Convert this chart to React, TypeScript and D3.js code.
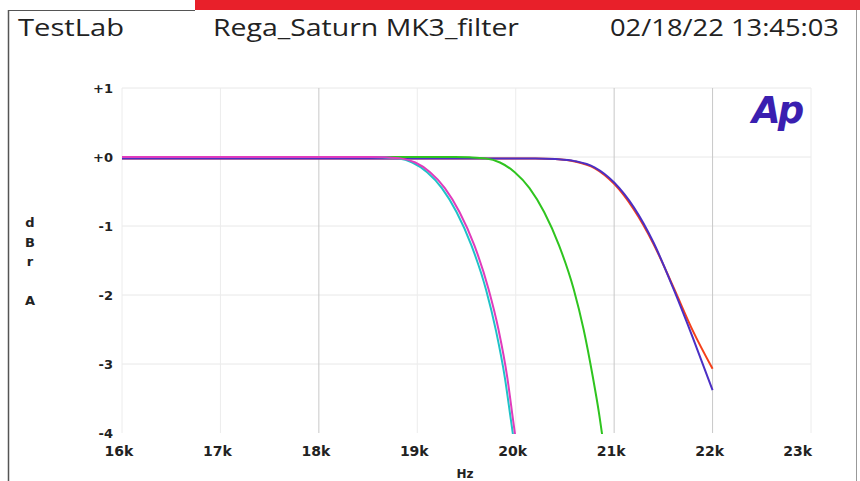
import React from "react";
import * as d3 from "d3";

const W = 860;
const H = 481;

const xTicks = [16000, 17000, 18000, 19000, 20000, 21000, 22000, 23000];
const xTickLabels = ["16k", "17k", "18k", "19k", "20k", "21k", "22k", "23k"];
const yTicks = [1, 0, -1, -2, -3, -4];
const yTickLabels = ["+1", "+0", "-1", "-2", "-3", "-4"];
const strongGridX = [18000, 21000, 22000];

const cyanF = [16000, 18500, 18650, 18800, 18950, 19100, 19250, 19400, 19550, 19700, 19800, 19890, 19950, 20000];
const cyanDb = [0, 0, -0.005, -0.02, -0.08, -0.22, -0.45, -0.8, -1.28, -1.93, -2.52, -3.2, -3.8, -4.3];

const magentaF = [16000, 18530, 18680, 18830, 18980, 19130, 19280, 19430, 19580, 19725, 19825, 19915, 19972, 20020];
const magentaDb = [0, 0, -0.005, -0.02, -0.08, -0.22, -0.45, -0.8, -1.28, -1.92, -2.5, -3.2, -3.8, -4.3];

const greenF = [16000, 19380, 19530, 19690, 19840, 19990, 20140, 20290, 20440, 20590, 20690, 20785, 20845, 20895];
const greenDb = [0, 0, -0.005, -0.02, -0.08, -0.22, -0.45, -0.8, -1.28, -1.92, -2.5, -3.2, -3.7, -4.2];

const blueF = [16000, 20200, 20400, 20600, 20800, 21000, 21200, 21400, 21600, 21800, 22000];
const blueDb = [-0.02, -0.02, -0.03, -0.06, -0.15, -0.37, -0.73, -1.24, -1.9, -2.62, -3.38];

const redF = [16000, 20200, 20400, 20600, 20800, 21000, 21200, 21400, 21600, 21800, 22000];
const redDb = [-0.02, -0.02, -0.03, -0.065, -0.16, -0.39, -0.76, -1.26, -1.88, -2.52, -3.07];

const seriesList = [
  { name: "red", f: redF, db: redDb, color: "#f5401a" },
  { name: "blue", f: blueF, db: blueDb, color: "#4b2fc4" },
  { name: "green", f: greenF, db: greenDb, color: "#2fc41f" },
  { name: "cyan", f: cyanF, db: cyanDb, color: "#20c2c8" },
  { name: "magenta", f: magentaF, db: magentaDb, color: "#e03cbc" },
];

const headerLeft = "TestLab";
const headerMid = "Rega_Saturn MK3_filter";
const headerRight = "02/18/22 13:45:03";
const yTitle = ["d", "B", "r", "", "A"];
const xTitle = "Hz";

export default function App() {
  const x = d3.scaleLinear().domain([16000, 23000]).range([122, 811]);
  const y = d3.scaleLinear().domain([-4, 1]).range([433, 88]);
  const line = d3
    .line<[number, number]>()
    .x((d) => x(d[0]))
    .y((d) => y(d[1]))
    .curve(d3.curveMonotoneX);

  const tickFont = "'DejaVu Sans', sans-serif";
  const headFont = "'Open Sans', 'Noto Sans', sans-serif";

  return (
    <svg
      width={W}
      height={H}
      viewBox={`0 0 ${W} ${H}`}
      style={{ position: "absolute", left: 0, top: 0, background: "#fff" }}
    >
      <rect x={0} y={0} width={W} height={H} fill="#fff" />
      {/* frame */}
      <rect x={195} y={0} width={W - 195} height={10} fill="#e8202a" />
      <line x1={8.5} y1={10} x2={8.5} y2={H} stroke="#555" strokeWidth={1.5} />
      <line x1={8} y1={10.5} x2={195} y2={10.5} stroke="#555" strokeWidth={1} />
      <line x1={856.5} y1={10} x2={856.5} y2={H} stroke="#999" strokeWidth={1} />

      {/* header */}
      <text x={18} y={36} fontFamily={headFont} fontSize={23} fill="#222" textLength={106} lengthAdjust="spacingAndGlyphs">
        {headerLeft}
      </text>
      <text x={213} y={36} fontFamily={headFont} fontSize={23} fill="#222" textLength={306} lengthAdjust="spacingAndGlyphs">
        {headerMid}
      </text>
      <text x={610} y={36} fontFamily={headFont} fontSize={23} fill="#222" textLength={229} lengthAdjust="spacingAndGlyphs">
        {headerRight}
      </text>

      {/* grid */}
      {yTicks.map((t) =>
        t === -4 ? null : (
          <line key={"gy" + t} x1={x(16000)} x2={x(23000)} y1={y(t)} y2={y(t)} stroke="#e8e8e8" strokeWidth={1} />
        )
      )}
      {xTicks.map((t) => (
        <line
          key={"gx" + t}
          x1={x(t)}
          x2={x(t)}
          y1={y(1)}
          y2={y(-4)}
          stroke={strongGridX.includes(t) ? "#c8c8c8" : "#ececec"}
          strokeWidth={1}
        />
      ))}

      {/* y tick labels */}
      {yTicks.map((t, i) => (
        <text
          key={"yl" + t}
          x={113}
          y={y(t) + 4.5}
          textAnchor="end"
          fontFamily={tickFont}
          fontWeight="bold"
          fontSize={13}
          fill="#222"
        >
          {yTickLabels[i]}
        </text>
      ))}
      {/* x tick labels */}
      {xTicks.map((t, i) => (
        <text
          key={"xl" + t}
          x={i === xTicks.length - 1 ? x(t) + 1 : x(t) - 3}
          y={456}
          textAnchor={i === xTicks.length - 1 ? "end" : "middle"}
          fontFamily={tickFont}
          fontWeight="bold"
          fontSize={14}
          fill="#222"
        >
          {xTickLabels[i]}
        </text>
      ))}
      {/* axis titles */}
      {yTitle.map((c, i) => (
        <text
          key={"yt" + i}
          x={30}
          y={227 + i * 19.5}
          textAnchor="middle"
          fontFamily={tickFont}
          fontWeight="bold"
          fontSize={13}
          fill="#222"
        >
          {c}
        </text>
      ))}
      <text x={465} y={478} textAnchor="middle" fontFamily={tickFont} fontWeight="bold" fontSize={12} fill="#222">
        {xTitle}
      </text>

      {/* Ap logo */}
      <text
        x={752}
        y={123}
        fontFamily="'DejaVu Sans', sans-serif"
        fontWeight="bold"
        fontStyle="italic"
        fontSize={37}
        fill="#3a1fb0"
        letterSpacing={-3}
      >
        Ap
      </text>

      {/* curves */}
      <defs>
        <clipPath id="plotclip">
          <rect x={x(16000)} y={y(1)} width={x(23000) - x(16000)} height={y(-4) - y(1) + 1} />
        </clipPath>
      </defs>
      <g clipPath="url(#plotclip)">
        {seriesList.map((s) => (
          <path
            key={s.name}
            d={line(s.f.map((f, i) => [f, s.db[i]] as [number, number])) || ""}
            fill="none"
            stroke={s.color}
            strokeWidth={2}
          />
        ))}
      </g>
    </svg>
  );
}
